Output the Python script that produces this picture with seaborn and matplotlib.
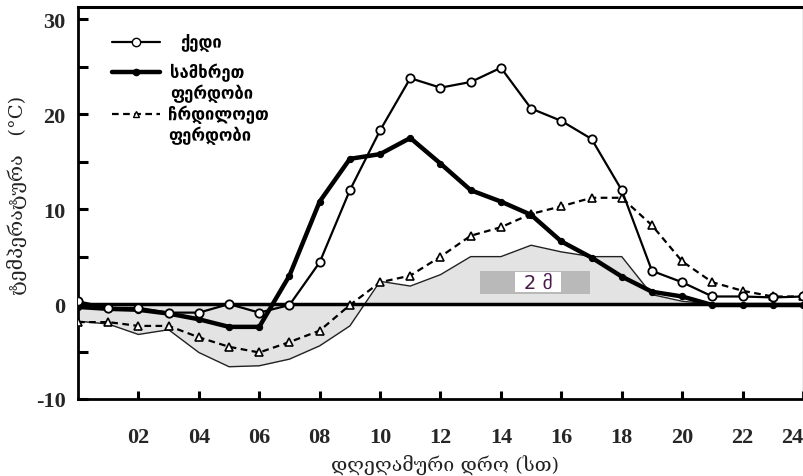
import numpy as np
import pandas as pd
import matplotlib
matplotlib.use("Agg")
import matplotlib.pyplot as plt
import seaborn as sns
from matplotlib.lines import Line2D
from matplotlib.ticker import MultipleLocator

hours = list(range(0, 25))
ridge = [0.3, -0.4, -0.4, -0.9, -0.9, 0.0, -0.9, -0.1, 4.4, 12.0, 18.3, 23.8, 22.8,
         23.4, 24.9, 20.6, 19.3, 17.4, 12.0, 3.5, 2.3, 0.8, 0.8, 0.7, 0.8]
south = [-0.3, -0.5, -0.6, -1.0, -1.6, -2.4, -2.4, 3.0, 10.8, 15.3, 15.8, 17.5, 14.8,
         12.0, 10.8, 9.4, 6.6, 4.9, 2.9, 1.3, 0.8, -0.1, -0.1, -0.1, -0.1]
north = [-1.9, -1.9, -2.3, -2.3, -3.5, -4.5, -5.1, -4.0, -2.8, -0.1, 2.3, 3.0, 5.0,
         7.2, 8.1, 9.5, 10.3, 11.2, 11.2, 8.3, 4.5, 2.3, 1.4, 0.8, 0.8]
air2m = [-1.8, -2.1, -3.2, -2.7, -5.1, -6.6, -6.5, -5.8, -4.4, -2.3, 2.4, 1.9, 3.1,
         5.0, 5.0, 6.2, 5.5, 5.0, 5.0, 1.0, 0.3, 0.0, 0.0, 0.0, 0.0]

labels = [["ქედი"], ["სამხრეთ", "ფერდობი"], ["ჩრდილოეთ", "ფერდობი"]]
xtick_vals = list(range(2, 25, 2))
xtick_labels = ["02", "04", "06", "08", "10", "12", "14", "16", "18", "20", "22", "24"]
ylabel = "ტემპერატურა   (°C)"
xlabel = "დღეღამური დრო (სთ)"
note = "2 მ"

sns.set_theme(style="white")
plt.rcParams['font.family'] = ['DejaVu Sans']
plt.rcParams['axes.unicode_minus'] = False

df = pd.DataFrame({"h": hours, "ridge": ridge, "south": south, "north": north, "air": air2m})

W, H = 804, 477
fig = plt.figure(figsize=(W/100, H/100), dpi=100)
ax = fig.add_axes([78/W, 1-400/H, (803-78)/W, (400-8)/H])

# gray 2 m area
ax.fill_between(df["h"], 0, df["air"], color="#e3e3e3", zorder=1, linewidth=0)
sns.lineplot(data=df, x="h", y="air", ax=ax, color="#222222", lw=1.0, zorder=2)
ax.axhline(0, color="black", lw=2.5, zorder=3)

sns.lineplot(data=df, x="h", y="north", ax=ax, color="black", lw=1.6,
             linestyle=(0, (3, 2)), marker="^", markersize=5.5,
             markerfacecolor="white", markeredgecolor="black", markeredgewidth=1.2, zorder=4)
sns.lineplot(data=df, x="h", y="south", ax=ax, color="black", lw=3.2,
             marker="o", markersize=4.5, markerfacecolor="black",
             markeredgecolor="black", zorder=5)
sns.lineplot(data=df, x="h", y="ridge", ax=ax, color="black", lw=1.6,
             marker="o", markersize=6, markerfacecolor="white",
             markeredgecolor="black", markeredgewidth=1.3, zorder=6)

ax.set_xlim(0, 24)
ax.set_ylim(-10, 31.3)

# annotation box
ax.add_patch(plt.Rectangle((13.31, 1.05), 3.64, 2.42, fc="#b9b9b9", ec="none", zorder=7))
ax.add_patch(plt.Rectangle((14.47, 1.26), 1.52, 2.11, fc="white", ec="none", zorder=8))
ax.text(15.23, 2.3, note, ha="center", va="center", fontsize=14, color="#4a1a4a",
        zorder=9)

# ticks
ax.set_xticks(xtick_vals)
ax.set_xticklabels(xtick_labels)
ax.yaxis.set_major_locator(MultipleLocator(10))
ax.yaxis.set_minor_locator(MultipleLocator(5))
ax.tick_params(axis="both", which="both", direction="in", length=7, width=2.2,
               color="black")
ax.tick_params(axis="x", which="both", length=6, pad=20, bottom=True, top=False)
ax.tick_params(axis="y", which="both", left=True, right=False, pad=9)
for t in ax.get_xticklabels() + ax.get_yticklabels():
    t.set_fontfamily(["Liberation Serif", "DejaVu Serif"])
    t.set_fontweight("bold")
    t.set_fontsize(16)
ax.get_xticklabels()[-1].set_horizontalalignment("right")

for s in ["left", "bottom", "top"]:
    ax.spines[s].set_color("black")
ax.spines["left"].set_linewidth(2)
ax.spines["bottom"].set_linewidth(2)
ax.spines["top"].set_linewidth(2.2)
ax.spines["right"].set_color("#999999")
ax.spines["right"].set_linewidth(1)

ax.set_xlabel("")
ax.set_ylabel("")
fig.text(17/W, 1-195/H, ylabel, rotation=90, ha="center", va="center",
         fontsize=14, color="#222222", family=["DejaVu Serif", "DejaVu Sans"])
fig.text(445/W, 1-465/H, xlabel, ha="center", va="center",
         fontsize=14, color="#222222", family=["DejaVu Serif", "DejaVu Sans"])

# legend drawn manually (handles + multi-line labels aligned to first line)
handles = [
    dict(color="black", lw=1.6, marker="o", markersize=6,
         markerfacecolor="white", markeredgecolor="black"),
    dict(color="black", lw=3.2, marker="o", markersize=4.5,
         markerfacecolor="black", markeredgecolor="black"),
    dict(color="black", lw=1.6, linestyle=(0, (3, 2)), marker="^",
         markersize=5, markerfacecolor="white", markeredgecolor="black"),
]
ys = [43, 73, 115]
tx = [180, 170, 168]
for hd, y, x0, lab in zip(handles, ys, tx, labels):
    ln = Line2D([112/W, 160/W], [1-y/H, 1-y/H], transform=fig.transFigure,
                markevery=[], **hd)
    fig.add_artist(ln)
    mk = Line2D([136/W], [1-y/H], transform=fig.transFigure,
                **{k: v for k, v in hd.items() if k not in ("linestyle", "lw")},
                linestyle="none")
    fig.add_artist(mk)
    for i, line in enumerate(lab):
        fig.text(x0/W, 1-(y+20.5*i)/H, line, ha="left", va="center",
                 fontsize=12, fontweight="bold", color="black")

fig.savefig("out.png", dpi=100)
